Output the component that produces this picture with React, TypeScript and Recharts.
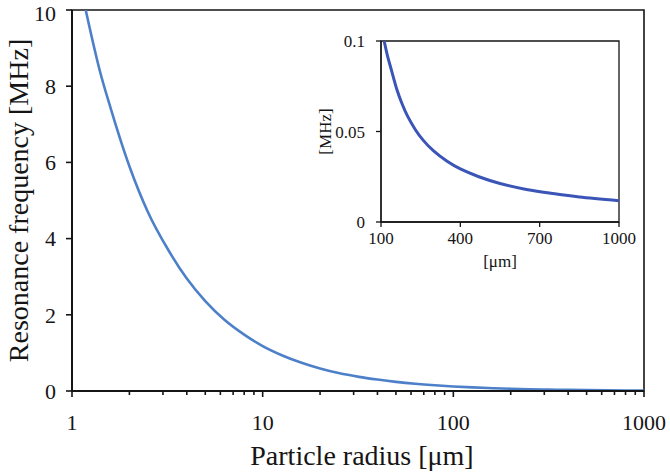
import { LineChart, Line, XAxis, YAxis, ReferenceArea } from 'recharts';

// main curve: particle radius [µm] vs resonance frequency [MHz]
const radiusMain = [1.18, 1.4, 1.6, 2, 2.5, 3.2, 4, 5, 6.3, 8, 10, 12.6, 16, 20, 25, 32, 40, 50, 63, 80, 100, 126, 160, 200, 250, 316, 400, 500, 630, 800, 1000];
const freqMain = [10, 8.4, 7.4, 5.9, 4.7, 3.7, 2.95, 2.36, 1.87, 1.48, 1.18, 0.94, 0.74, 0.59, 0.47, 0.37, 0.3, 0.24, 0.19, 0.15, 0.12, 0.094, 0.074, 0.059, 0.047, 0.037, 0.03, 0.024, 0.019, 0.015, 0.012];

// inset: 100–1000 µm, linear axes
const radiusInset = [112, 125, 140, 160, 180, 200, 230, 260, 300, 350, 400, 470, 550, 650, 750, 850, 1000];
const freqInset = [0.1, 0.0915, 0.0836, 0.0732, 0.0652, 0.0586, 0.051, 0.0451, 0.0391, 0.0335, 0.0293, 0.025, 0.0213, 0.018, 0.0157, 0.0138, 0.0118];

const mainXTicks = [1, 2, 3, 4, 5, 6, 7, 8, 9, 10, 20, 30, 40, 50, 60, 70, 80, 90, 100, 200, 300, 400, 500, 600, 700, 800, 900, 1000];
const mainXMajor = [1, 10, 100, 1000];
const mainYTicks = [0, 2, 4, 6, 8, 10];
const insetXTicks = [100, 400, 700, 1000];
const insetYTicks = [0, 0.05, 0.1];

const mainData = radiusMain.map((r, i) => ({ r, f: freqMain[i] }));
const insetData = radiusInset.map((r, i) => ({ r, f: freqInset[i] }));

const FONT = '"Liberation Serif", "Times New Roman", serif';
const INK = '#151515';

function LogTick({ x, y, payload }: any) {
  const major = mainXMajor.includes(payload.value);
  return (
    <g>
      <line x1={x} y1={y} x2={x} y2={y + (major ? 6 : 4)} stroke={INK} strokeWidth={1.6} />
      {major && (
        <text x={x} y={y + 39} textAnchor="middle" fontSize={22} fill={INK} fontFamily={FONT}>
          {payload.value}
        </text>
      )}
    </g>
  );
}

export default function App() {
  return (
    <div style={{ position: 'absolute', left: 0, top: 0, width: 670, height: 473, background: '#fff', fontFamily: FONT }}>
      <div style={{ position: 'absolute', left: 0, top: 0 }}>
        <LineChart width={670} height={473} data={mainData} margin={{ top: 10, right: 26, left: 0, bottom: 0 }}>
          <XAxis
            dataKey="r"
            type="number"
            scale="log"
            domain={[1, 1000]}
            ticks={mainXTicks}
            interval={0}
            height={82}
            tickSize={0}
            tickMargin={0}
            tickLine={false}
            tick={<LogTick />}
            axisLine={{ stroke: INK, strokeWidth: 2 }}
            allowDataOverflow
            label={{ value: 'Particle radius [μm]', position: 'insideBottom', offset: 8, dx: 4, style: { fontSize: 28, fill: INK, fontFamily: FONT } }}
          />
          <YAxis
            type="number"
            domain={[0, 10]}
            ticks={mainYTicks}
            width={72}
            tickSize={6}
            tickMargin={10}
            tickLine={{ stroke: INK, strokeWidth: 1.6 }}
            axisLine={{ stroke: INK, strokeWidth: 2 }}
            tick={{ fontSize: 22, fill: INK, fontFamily: FONT }}
            allowDataOverflow
            label={{ value: 'Resonance frequency [MHz]', angle: -90, position: 'insideLeft', offset: 18, style: { textAnchor: 'middle', fontSize: 28, fill: INK, fontFamily: FONT } }}
          />
          <ReferenceArea x1={1} x2={1000} y1={0} y2={10} fill="none" stroke={INK} strokeWidth={1.6} />
          <Line type="monotone" dataKey="f" stroke="#4d80c9" strokeWidth={2.6} dot={false} isAnimationActive={false} />
        </LineChart>
      </div>
      <div style={{ position: 'absolute', left: 0, top: 0 }}>
        <LineChart width={670} height={473} data={insetData} margin={{ top: 41, right: 51, left: 0, bottom: 0 }}>
          <XAxis
            dataKey="r"
            type="number"
            domain={[100, 1000]}
            ticks={insetXTicks}
            interval={0}
            height={251}
            tickSize={5}
            tickMargin={5}
            tickLine={{ stroke: INK, strokeWidth: 1.3 }}
            axisLine={{ stroke: INK, strokeWidth: 1.3 }}
            tick={{ fontSize: 17, fill: INK, fontFamily: FONT }}
            allowDataOverflow
            label={{ value: '[μm]', position: 'insideTop', offset: 33, style: { fontSize: 17, fill: INK, fontFamily: FONT } }}
          />
          <YAxis
            type="number"
            domain={[0, 0.1]}
            ticks={insetYTicks}
            width={381}
            tickSize={5}
            tickMargin={11}
            tickLine={{ stroke: INK, strokeWidth: 1.3 }}
            axisLine={{ stroke: INK, strokeWidth: 1.3 }}
            tick={{ fontSize: 17, fill: INK, fontFamily: FONT }}
            allowDataOverflow
            label={{ value: '[MHz]', angle: -90, position: 'insideLeft', offset: 325, style: { textAnchor: 'middle', fontSize: 17, fill: INK, fontFamily: FONT } }}
          />
          <ReferenceArea x1={100} x2={1000} y1={0} y2={0.1} fill="none" stroke={INK} strokeWidth={1.3} />
          <Line type="natural" dataKey="f" stroke="#3a55b7" strokeWidth={3} dot={false} isAnimationActive={false} />
        </LineChart>
      </div>
    </div>
  );
}
